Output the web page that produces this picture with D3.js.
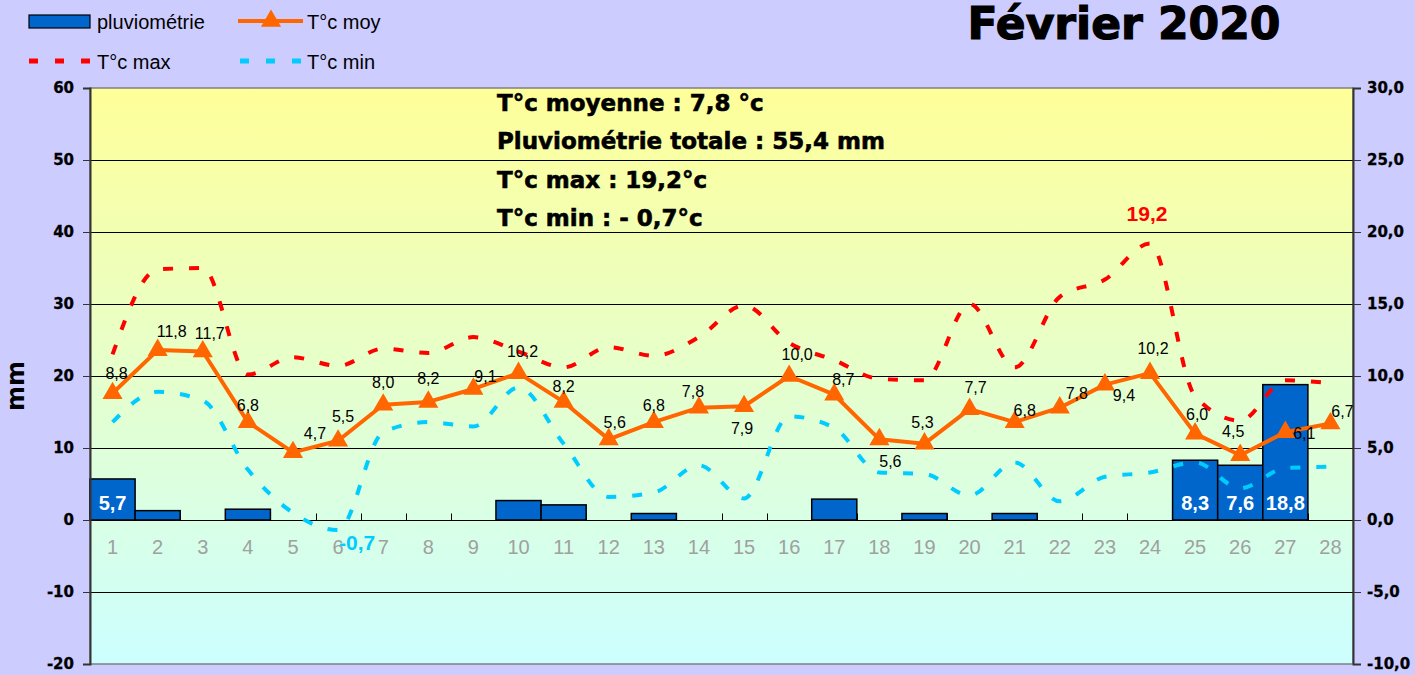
<!DOCTYPE html>
<html><head><meta charset="utf-8">
<script src="https://cdn.jsdelivr.net/npm/d3@7"></script>
<style>
html,body{margin:0;padding:0;background:#CCCCFF;}
svg{display:block;}
</style></head>
<body>
<svg id="chart" width="1415" height="675"></svg>
<script>
// ---- data ----
const days = ["1","2","3","4","5","6","7","8","9","10","11","12","13","14","15","16","17","18","19","20","21","22","23","24","25","26","27","28"];
const rain = [5.7,1.3,0,1.5,0,0,0,0,0,2.7,2.1,0,0.9,0,0,0,2.9,0,0.9,0,0.9,0,0,0,8.3,7.6,18.8,0];
const tmoy = [8.8,11.8,11.7,6.8,4.7,5.5,8.0,8.2,9.1,10.2,8.2,5.6,6.8,7.8,7.9,10.0,8.7,5.6,5.3,7.7,6.8,7.8,9.4,10.2,6.0,4.5,6.1,6.7];
const tmax = [11.5,17.4,17.5,10.1,11.3,10.7,11.9,11.6,12.7,11.7,10.6,12.0,11.4,12.7,14.9,12.3,11.1,9.8,9.7,15.0,10.6,15.5,16.7,19.2,8.6,6.9,9.7,9.5];
const tmin = [6.8,8.9,8.3,3.5,0.5,-0.7,6.1,6.8,6.5,9.2,5.3,1.6,1.9,3.8,1.5,7.2,6.4,3.3,3.2,1.7,4.0,1.3,3.0,3.3,4.0,2.2,3.6,3.7];
const leftTicks = [-20,-10,0,10,20,30,40,50,60];
const rightTicks = [-10,-5,0,5,10,15,20,25,30];
const title = "Février 2020";
const infoLines = ["T°c moyenne : 7,8 °c","Pluviométrie totale : 55,4 mm","T°c max : 19,2°c","T°c min : - 0,7°c"];
const seriesNames = ["pluviométrie","T°c moy","T°c max","T°c min"];
// label offsets for T°c moy data labels (relative to point)
const moyLabelOffset = [[4,-20],[14,-19],[7,-18],[0,-17],[22,-19],[5,-24],[0,-22],[0,-23],[12,-12],[4,-22],[0,-15],[6,-17],[0,-17],[-6,-16],[-2,22],[8,-22],[9,-15],[11,22],[-2,-21],[6,-22],[10,-12],[17,-14],[19,11],[3,-25],[2,-19],[-7,-24],[19,1],[12,-12]];

const fmt = v => d3.format(".1f")(v).replace(".", ",").replace("−", "-");
const bold = "'DejaVu Sans', sans-serif";
const reg = "'Liberation Sans', Arial, sans-serif";

const svg = d3.select("#chart");
const W = 1415, H = 675;
const L = 90, R = 1353, T = 88, B = 664;

svg.append("rect").attr("width", W).attr("height", H).attr("fill", "#CCCCFF");

const defs = svg.append("defs");
const grad = defs.append("linearGradient").attr("id","bg").attr("x1",0).attr("y1",0).attr("x2",0).attr("y2",1);
grad.append("stop").attr("offset","0%").attr("stop-color","#FFFF99");
grad.append("stop").attr("offset","100%").attr("stop-color","#CCFFFF");

const x = d3.scaleBand().domain(days).range([L, R]).padding(0);
const yL = d3.scaleLinear().domain([-20, 60]).range([B, T]);
const yR = d3.scaleLinear().domain([-10, 30]).range([B, T]);
const cx = d => x(d) + x.bandwidth() / 2;

svg.append("rect").attr("x", L).attr("y", T).attr("width", R - L).attr("height", B - T)
  .attr("fill", "url(#bg)").attr("stroke", "#808080").attr("stroke-width", 1.5);

// gridlines
svg.append("g").selectAll("line").data(leftTicks.filter(v => v > -20 && v < 60)).join("line")
  .attr("x1", L).attr("x2", R).attr("y1", d => Math.round(yL(d)) + 0.5).attr("y2", d => Math.round(yL(d)) + 0.5)
  .attr("stroke", "#000").attr("stroke-width", 1);

// category boundary ticks on zero line
const y0 = Math.round(yL(0)) + 0.5;
svg.append("g").selectAll("line").data(days.slice(1)).join("line")
  .attr("x1", d => Math.round(x(d)) + 0.5).attr("x2", d => Math.round(x(d)) + 0.5)
  .attr("y1", y0).attr("y2", y0 - 7).attr("stroke", "#000");

// bars
const rainData = days.map((d, i) => ({d, v: rain[i]})).filter(o => o.v > 0);
svg.append("g").selectAll("rect").data(rainData).join("rect")
  .attr("x", o => x(o.d)).attr("width", x.bandwidth())
  .attr("y", o => yL(o.v)).attr("height", o => yL(0) - yL(o.v))
  .attr("fill", "#0066CC").attr("stroke", "#000").attr("stroke-width", 1.5);

// lines
const smooth = d3.line().x((v, i) => cx(days[i])).y(v => yR(v)).curve(d3.curveMonotoneX);
svg.append("path").attr("d", smooth(tmax)).attr("fill", "none").attr("stroke", "#FF0000")
  .attr("stroke-width", 4).attr("stroke-dasharray", "10,16");
svg.append("path").attr("d", smooth(tmin)).attr("fill", "none").attr("stroke", "#00CCFF")
  .attr("stroke-width", 4).attr("stroke-dasharray", "10,16");

const straight = d3.line().x((v, i) => cx(days[i])).y(v => yR(v));
svg.append("path").attr("d", straight(tmoy)).attr("fill", "none").attr("stroke", "#FF6600")
  .attr("stroke-width", 4).attr("stroke-linejoin", "round");
const tri = d3.symbol().type(d3.symbolTriangle).size(175);
svg.append("g").selectAll("path").data(tmoy).join("path")
  .attr("d", tri).attr("transform", (v, i) => `translate(${cx(days[i])},${yR(v)})`)
  .attr("fill", "#FF6600");

// bar labels
svg.append("g").selectAll("text").data(rainData.filter(o => o.v >= 5)).join("text")
  .attr("x", o => cx(o.d)).attr("y", yL(0) - 10)
  .attr("text-anchor", "middle").attr("font-family", reg).attr("font-weight", "bold")
  .attr("font-size", 20).attr("fill", "#fff").text(o => fmt(o.v));

// moy labels
svg.append("g").selectAll("text").data(tmoy).join("text")
  .attr("x", (v, i) => cx(days[i]) + moyLabelOffset[i][0])
  .attr("y", (v, i) => yR(v) + moyLabelOffset[i][1])
  .attr("dominant-baseline", "central").attr("text-anchor", "middle")
  .attr("font-family", reg).attr("font-size", 16).attr("fill", "#000").text(v => fmt(v));

// max / min annotations
const iMax = d3.maxIndex(tmax), iMin = d3.minIndex(tmin);
svg.append("text").attr("x", cx(days[iMax]) - 3).attr("y", yR(tmax[iMax]) - 30)
  .attr("dominant-baseline", "central").attr("text-anchor", "middle")
  .attr("font-family", reg).attr("font-weight", "bold").attr("font-size", 21).attr("fill", "#FF0000")
  .text(fmt(tmax[iMax]));
svg.append("text").attr("x", cx(days[iMin]) + 19).attr("y", yR(tmin[iMin]) + 12)
  .attr("dominant-baseline", "central").attr("text-anchor", "middle")
  .attr("font-family", reg).attr("font-weight", "bold").attr("font-size", 21).attr("fill", "#00CCFF")
  .text(fmt(tmin[iMin]));

// axes
const axL = svg.append("g").attr("transform", `translate(${L},0)`)
  .call(d3.axisLeft(yL).tickValues(leftTicks).tickSize(7).tickPadding(9).tickFormat(d => String(d)));
const axR = svg.append("g").attr("transform", `translate(${R},0)`)
  .call(d3.axisRight(yR).tickValues(rightTicks).tickSize(8).tickPadding(6).tickFormat(fmt));
[axL, axR].forEach(a => {
  a.select(".domain").attr("stroke", "#333").attr("stroke-width", 2);
  a.selectAll(".tick line").attr("stroke", "#333");
  a.selectAll(".tick text").attr("font-family", bold).attr("font-weight", "bold")
    .attr("font-size", 15).attr("fill", "#000").attr("stroke", "#000").attr("stroke-width", 0.3);
});
const axX = svg.append("g").attr("transform", `translate(0,${yL(0)})`)
  .call(d3.axisBottom(x).tickSize(0).tickPadding(20));
axX.select(".domain").remove();
axX.selectAll(".tick text").attr("font-family", reg).attr("font-size", 20).attr("fill", "#A0A0A0");

svg.append("text").attr("transform", `translate(24,${(T + B) / 2 + 10}) rotate(-90)`)
  .attr("text-anchor", "middle").attr("font-family", bold).attr("font-weight", "bold")
  .attr("font-size", 24).attr("fill", "#000").text("mm");

// title
svg.append("text").attr("x", 1124).attr("y", 39).attr("text-anchor", "middle")
  .attr("font-family", bold).attr("font-weight", "bold").attr("font-size", 44).attr("fill", "#000")
  .attr("stroke", "#000").attr("stroke-width", 1.2).text(title);

// info text
svg.append("g").selectAll("text").data(infoLines).join("text")
  .attr("x", 497).attr("y", (d, i) => 111 + i * 38.3)
  .attr("font-family", bold).attr("font-weight", "bold").attr("font-size", 23).attr("fill", "#000")
  .attr("stroke", "#000").attr("stroke-width", 0.6).text(d => d);

// legend
const lg = svg.append("g");
lg.append("rect").attr("x", 29).attr("y", 15).attr("width", 61).attr("height", 13)
  .attr("fill", "#0066CC").attr("stroke", "#000").attr("stroke-width", 1.2);
lg.append("line").attr("x1", 238).attr("x2", 303).attr("y1", 21).attr("y2", 21)
  .attr("stroke", "#FF6600").attr("stroke-width", 4);
lg.append("path").attr("d", tri).attr("transform", "translate(271,21)").attr("fill", "#FF6600");
lg.append("line").attr("x1", 29).attr("x2", 90).attr("y1", 61).attr("y2", 61)
  .attr("stroke", "#FF0000").attr("stroke-width", 5).attr("stroke-dasharray", "9,17");
lg.append("line").attr("x1", 240).attr("x2", 301).attr("y1", 61).attr("y2", 61)
  .attr("stroke", "#00CCFF").attr("stroke-width", 5).attr("stroke-dasharray", "9,17");
const legPos = [[97,22],[307,22],[97,62],[307,62]];
lg.selectAll("text").data(seriesNames).join("text")
  .attr("x", (d, i) => legPos[i][0]).attr("y", (d, i) => legPos[i][1])
  .attr("dominant-baseline", "central").attr("font-family", reg).attr("font-size", 20)
  .attr("fill", "#000").text(d => d);
</script>
</body></html>
